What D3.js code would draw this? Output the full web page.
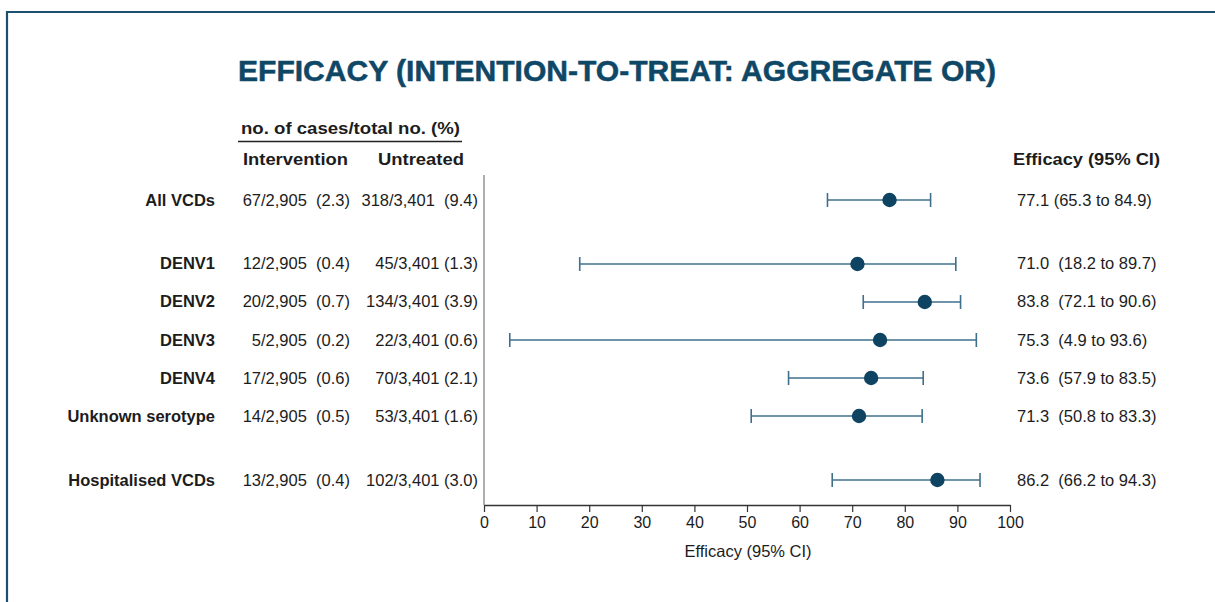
<!DOCTYPE html>
<html><head><meta charset="utf-8">
<script src="https://cdn.jsdelivr.net/npm/d3@7"></script>
<style>
html,body{margin:0;padding:0;background:#fff;}
svg{display:block;font-family:"Liberation Sans",Arial,sans-serif;}
</style></head>
<body><svg id="c" width="1215" height="602"></svg>
<script>
const categories = ["All VCDs","DENV1","DENV2","DENV3","DENV4","Unknown serotype","Hospitalised VCDs"];
const groupGapBefore = [false,true,false,false,false,false,true];
const efficacy = [77.1,71.0,83.8,75.3,73.6,71.3,86.2];
const lower = [65.3,18.2,72.1,4.9,57.9,50.8,66.2];
const upper = [84.9,89.7,90.6,93.6,83.5,83.3,94.3];
const intervention = ["67/2,905  (2.3)","12/2,905  (0.4)","20/2,905  (0.7)","5/2,905  (0.2)","17/2,905  (0.6)","14/2,905  (0.5)","13/2,905  (0.4)"];
const untreated = ["318/3,401  (9.4)","45/3,401 (1.3)","134/3,401 (3.9)","22/3,401 (0.6)","70/3,401 (2.1)","53/3,401 (1.6)","102/3,401 (3.0)"];
const effLabels = ["77.1 (65.3 to 84.9)","71.0  (18.2 to 89.7)","83.8  (72.1 to 90.6)","75.3  (4.9 to 93.6)","73.6  (57.9 to 83.5)","71.3  (50.8 to 83.3)","86.2  (66.2 to 94.3)"];
const xTicks = [0,10,20,30,40,50,60,70,80,90,100];

const svg = d3.select("#c");
const dark = "#0e4461", navy = "#0f4766", lineC = "#3f6f8b", txt = "#1c1c1c";
const FS = 16.5;

// frame
svg.append("path").attr("d","M7,602 L7,12 L1215,12").attr("fill","none").attr("stroke","#1d4f6e").attr("stroke-width",2.2);

// title
svg.append("text").attr("x",617).attr("y",81).attr("text-anchor","middle")
  .attr("font-size",30).attr("font-weight","bold").attr("fill",navy)
  .attr("stroke",navy).attr("stroke-width",0.5)
  .attr("textLength",758).attr("lengthAdjust","spacingAndGlyphs")
  .text("EFFICACY (INTENTION-TO-TREAT: AGGREGATE OR)");

// slots with gaps
let s = 0;
const slots = categories.map((c,i)=>{ if(i>0){ s += groupGapBefore[i] ? 1.684 : 1; } return s; });
const y = d3.scaleLinear().domain([0, slots[slots.length-1]]).range([200,480]);
const x = d3.scaleLinear().domain([0,100]).range([484,1010]);

// headers
svg.append("text").attr("x",241).attr("y",134).attr("font-size",16).attr("font-weight","bold").attr("fill",txt)
  .attr("textLength",219).attr("lengthAdjust","spacingAndGlyphs").text("no. of cases/total no. (%)");
svg.append("line").attr("x1",238).attr("x2",462).attr("y1",141.5).attr("y2",141.5).attr("stroke","#222").attr("stroke-width",1.3);
svg.append("text").attr("x",243).attr("y",165).attr("font-size",16.5).attr("font-weight","bold").attr("fill",txt).attr("textLength",105).attr("lengthAdjust","spacingAndGlyphs").text("Intervention");
svg.append("text").attr("x",378).attr("y",165).attr("font-size",16.5).attr("font-weight","bold").attr("fill",txt).attr("textLength",86).attr("lengthAdjust","spacingAndGlyphs").text("Untreated");
svg.append("text").attr("x",1013).attr("y",165).attr("font-size",16.5).attr("font-weight","bold").attr("fill",txt).attr("textLength",147).attr("lengthAdjust","spacingAndGlyphs").text("Efficacy (95% CI)");

// axis
const axisY = 505;
const ax = svg.append("g").attr("transform",`translate(0,${axisY})`)
  .call(d3.axisBottom(x).tickValues(xTicks).tickSize(7).tickPadding(5).tickSizeOuter(0));
ax.select(".domain").attr("stroke","#333").attr("stroke-width",1.3);
ax.selectAll(".tick line").attr("stroke","#333").attr("stroke-width",1.2);
ax.selectAll(".tick text").attr("font-size",16).attr("fill",txt).attr("font-family","Liberation Sans, Arial, sans-serif");
svg.append("line").attr("x1",x(0)).attr("x2",x(0)).attr("y1",175).attr("y2",axisY).attr("stroke","#777").attr("stroke-width",1.2);
svg.append("text").attr("x",748).attr("y",557).attr("text-anchor","middle").attr("font-size",FS).attr("fill",txt).text("Efficacy (95% CI)");

// rows
const rows = svg.append("g").selectAll("g").data(categories).join("g");
rows.append("text").attr("x",215).attr("y",(d,i)=>y(slots[i])+5.5).attr("text-anchor","end")
  .attr("font-size",FS).attr("font-weight","bold").attr("fill",txt).text(d=>d);
rows.append("text").attr("x",350).attr("y",(d,i)=>y(slots[i])+5.5).attr("text-anchor","end")
  .attr("font-size",FS).attr("fill",txt).style("white-space","pre").text((d,i)=>intervention[i]);
rows.append("text").attr("x",478).attr("y",(d,i)=>y(slots[i])+5.5).attr("text-anchor","end")
  .attr("font-size",FS).attr("fill",txt).style("white-space","pre").text((d,i)=>untreated[i]);
rows.append("text").attr("x",1017).attr("y",(d,i)=>y(slots[i])+5.5)
  .attr("font-size",FS).attr("fill",txt).style("white-space","pre").text((d,i)=>effLabels[i]);

// CI lines
rows.append("line").attr("x1",(d,i)=>x(lower[i])).attr("x2",(d,i)=>x(upper[i]))
  .attr("y1",(d,i)=>y(slots[i])).attr("y2",(d,i)=>y(slots[i])).attr("stroke",lineC).attr("stroke-width",1.6);
rows.append("line").attr("x1",(d,i)=>x(lower[i])).attr("x2",(d,i)=>x(lower[i]))
  .attr("y1",(d,i)=>y(slots[i])-7).attr("y2",(d,i)=>y(slots[i])+7).attr("stroke",lineC).attr("stroke-width",1.6);
rows.append("line").attr("x1",(d,i)=>x(upper[i])).attr("x2",(d,i)=>x(upper[i]))
  .attr("y1",(d,i)=>y(slots[i])-7).attr("y2",(d,i)=>y(slots[i])+7).attr("stroke",lineC).attr("stroke-width",1.6);
rows.append("circle").attr("cx",(d,i)=>x(efficacy[i])).attr("cy",(d,i)=>y(slots[i])).attr("r",7.2).attr("fill",dark);
</script></body></html>
